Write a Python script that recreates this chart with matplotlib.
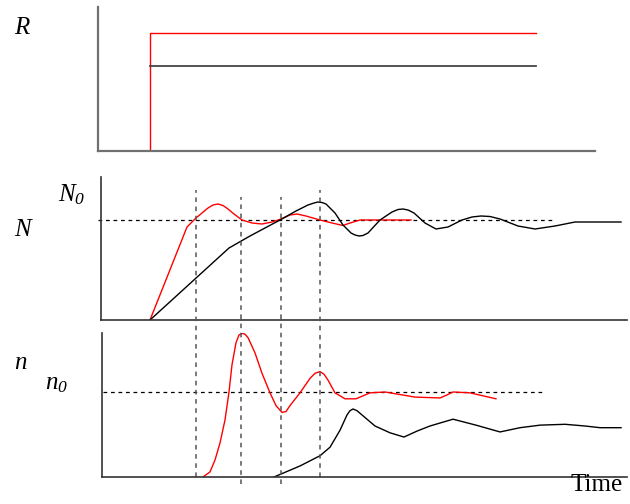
import matplotlib
matplotlib.use('Agg')
import matplotlib.pyplot as plt

plt.rcParams['font.family'] = 'Liberation Serif'
plt.rcParams['mathtext.fontset'] = 'custom'
# all symbols on this figure are italic, digits included
plt.rcParams['mathtext.rm'] = 'Liberation Serif:italic'
plt.rcParams['mathtext.it'] = 'Liberation Serif:italic'

# step input R (red = larger step)
r_t = [0, 0, 38.6]
r_red = [0, 1.0, 1.0]
r_blk_t = [0, 38.6]
r_blk = [0.72, 0.72]

# N response
n_red_t = [0, 3.7, 4.6, 5.8, 6.3, 6.8, 7.3, 7.8, 8.4, 9.2, 10.2, 11.2, 12.2, 13.1, 14.0,
           14.7, 15.6, 17.0, 18.2, 19.3, 20.0, 21.0, 26.1]
n_red = [0, 0.93, 1.02, 1.12, 1.15, 1.16, 1.145, 1.11, 1.06, 1.0, 0.97, 0.96, 0.98, 1.01,
         1.05, 1.06, 1.04, 1.0, 0.97, 0.945, 0.97, 1.0, 1.0]
n_blk_t = [0, 7.9, 10.0, 13.0, 14.6, 15.8, 16.4, 16.8, 17.2, 17.6, 18.5, 19.3, 20.1, 20.5,
           20.9, 21.3, 21.8, 23.0, 24.2, 24.8, 25.3, 25.8, 26.4, 27.5, 28.6, 29.8, 31.2,
           32.2, 33.1, 34.0, 35.0, 36.8, 38.5, 40.5, 42.5, 45.0, 47.1]
n_blk = [0, 0.72, 0.84, 1.0, 1.09, 1.15, 1.17, 1.18, 1.175, 1.16, 1.07, 0.95, 0.87, 0.85,
         0.84, 0.845, 0.87, 1.0, 1.08, 1.105, 1.11, 1.1, 1.07, 0.97, 0.91, 0.93, 1.0,
         1.03, 1.04, 1.035, 1.01, 0.94, 0.91, 0.94, 0.98, 0.98, 0.98]

# n response
s_red_t = [5.3, 6.0, 6.5, 7.0, 7.5, 7.9, 8.2, 8.6, 8.9, 9.2, 9.5, 9.8, 10.5, 11.2, 12.0,
           12.6, 13.2, 13.6, 14.0, 15.0, 16.0, 16.5, 17.0, 17.4, 17.8, 18.5, 19.5, 20.6,
           22.0, 23.5, 26.5, 29.0, 29.6, 30.3, 32.0, 34.6]
s_red = [0, 0.06, 0.2, 0.4, 0.67, 1.0, 1.32, 1.58, 1.67, 1.69, 1.68, 1.64, 1.46, 1.22, 0.99,
         0.84, 0.76, 0.77, 0.84, 0.99, 1.16, 1.22, 1.24, 1.21, 1.14, 0.99, 0.92, 0.92,
         0.99, 1.0, 0.94, 0.93, 0.96, 1.0, 0.99, 0.92]
s_blk_t = [12.4, 15.0, 17.0, 18.0, 19.0, 19.7, 20.0, 20.3, 20.7, 21.2, 22.5, 24.0, 25.4,
           26.7, 28.0, 30.3, 32.6, 35.0, 37.0, 39.0, 41.5, 43.5, 45.0, 47.1]
s_blk = [0, 0.13, 0.25, 0.35, 0.55, 0.73, 0.78, 0.8, 0.78, 0.73, 0.6, 0.52, 0.47, 0.54,
         0.6, 0.68, 0.61, 0.53, 0.58, 0.61, 0.62, 0.6, 0.58, 0.58]

# instants marked across the N and n panels
marks = [4.6, 9.1, 13.1, 17.0]

W, H = 630, 504
fig = plt.figure(figsize=(W / 100, H / 100), dpi=100)


def panel(left, right, top, bottom, spine_color='#333333', spine_lw=1.2):
    ax = fig.add_axes([left / W, 1 - bottom / H, (right - left) / W, (bottom - top) / H])
    for s in ['top', 'right']:
        ax.spines[s].set_visible(False)
    for s in ['left', 'bottom']:
        ax.spines[s].set_linewidth(spine_lw)
        ax.spines[s].set_color(spine_color)
    ax.set_xticks([])
    ax.set_yticks([])
    return ax


ax1 = panel(98, 595, 7, 151, spine_color='#707070', spine_lw=1.6)
ax1.set_xlim(-5.2, 44.5)
ax1.set_ylim(0, 1.22)
ax1.plot(r_t, r_red, color='red', lw=1)
ax1.plot(r_blk_t, r_blk, color='#444444', lw=1.3)

ax2 = panel(101, 627, 177, 320)
ax2.set_xlim(-4.9, 47.7)
ax2.set_ylim(0, 1.43)
ax2.plot([-5.2, 40.2], [1, 1], color='black', lw=0.9, ls=(0, (3, 3)), clip_on=False)
ax2.plot(n_red_t, n_red, color='red', lw=1)
ax2.plot(n_blk_t, n_blk, color='black', lw=1)

ax3 = panel(102, 627, 333, 477)
ax3.set_xlim(-4.8, 47.7)
ax3.set_ylim(0, 1.694)
ax3.plot([-4.7, 39.2], [1, 1], color='black', lw=0.9, ls=(0, (3, 3)), clip_on=False)
ax3.plot(s_red_t, s_red, color='red', lw=1)
ax3.plot(s_blk_t, s_blk, color='black', lw=1)

# vertical markers run from the N panel down through the n panel
tops = [190, 197, 197, 190]
bots = [477, 484, 484, 477]
for x, tp, bt in zip(marks, tops, bots):
    ax3.axvline(x, ymin=(477 - bt) / 144, ymax=(477 - tp) / 144, color='#555555',
                lw=1.1, ls=(0, (3, 3)), clip_on=False)

fs = 18
fig.text(22 / W, 1 - 28 / H, '$R$', fontsize=fs, ha='center', va='center')
fig.text(72 / W, 1 - 195 / H, '$N_0$', fontsize=fs, ha='center', va='center')
fig.text(24 / W, 1 - 230 / H, '$N$', fontsize=fs, ha='center', va='center')
fig.text(21 / W, 1 - 363 / H, '$n$', fontsize=fs, ha='center', va='center')
fig.text(57 / W, 1 - 384 / H, '$n_0$', fontsize=fs, ha='center', va='center')
fig.text(597 / W, 1 - 485 / H, 'Time', fontsize=fs, ha='center', va='center')

fig.savefig('out.png', dpi=100)
